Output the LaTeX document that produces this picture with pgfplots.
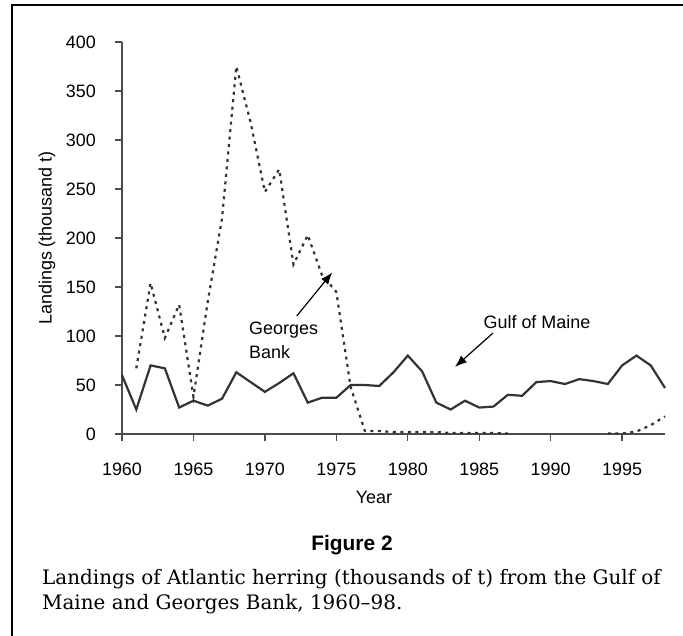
\documentclass[border=0pt]{standalone}
\usepackage{fontspec}
\setmainfont{Liberation Sans}
\newfontfamily\capfont{DejaVu Serif}
\usepackage{pgfplots}
\pgfplotsset{compat=1.18}
\usetikzlibrary{arrows.meta}
\begin{document}
\begin{tikzpicture}
\path[use as bounding box] (0,0) rectangle (683bp,-636bp);
\draw[line width=2bp, black] (12bp,-640bp) -- (12bp,-5bp) -- (690bp,-5bp);
\begin{axis}[
  at={(122bp,-434bp)}, anchor=south west,
  scale only axis, width=543bp, height=392bp,
  xmin=1960, xmax=1998, ymin=0, ymax=400,
  axis lines=left,
  axis line style={-, line width=1.6bp, color=black!70},
  xtick={1960,1965,...,1995}, ytick={0,50,...,400},
  tick align=outside, major tick length=7bp,
  tick style={line width=1.4bp, color=black!70},
  /pgf/number format/1000 sep=,
  /pgf/number format/assume math mode=true,
  ticklabel style={font=\fontsize{18}{21}\selectfont, inner sep=0pt},
  xticklabel style={anchor=center, yshift=-28bp},
  yticklabel style={anchor=east, xshift=-19bp},
  xlabel={Year}, ylabel={Landings (thousand t)},
  label style={font=\fontsize{18}{21}\selectfont},
  xlabel style={at={(axis description cs:0.4641,-0.1607)}, anchor=center},
  ylabel style={at={(axis description cs:-0.1381,0.5)}, anchor=center},
  clip=false,
  unbounded coords=jump,
]
\addplot[line width=2.2bp, color=black!80, line join=miter] coordinates {
(1960,60) (1961,25) (1962,70) (1963,67) (1964,27) (1965,34) (1966,29) (1967,36)
(1968,63) (1969,53) (1970,43) (1971,52) (1972,62) (1973,32) (1974,37) (1975,37)
(1976,50) (1977,50) (1978,49) (1979,63) (1980,80) (1981,64) (1982,32) (1983,25)
(1984,34) (1985,27) (1986,28) (1987,40) (1988,39) (1989,53) (1990,54) (1991,51)
(1992,56) (1993,54) (1994,51) (1995,70) (1996,80) (1997,70) (1998,47)
};
\addplot[line width=2.2bp, color=black!80, dash pattern=on 3bp off 4.5bp] coordinates {
(1961,67) (1962,154) (1963,98) (1964,132) (1965,38) (1966,135) (1967,220)
(1968,375) (1969,318) (1970,247) (1971,270) (1972,173) (1973,203) (1974,162)
(1975,145) (1976,48) (1977,3) (1978,3) (1979,2) (1980,2) (1981,2) (1982,2)
(1983,1) (1984,1) (1985,1) (1986,1) (1987,0.5) (1988,nan) (1993,nan)
(1994,0.5) (1995,0.5) (1996,2.5) (1997,9) (1998,18)
};
\node[font=\fontsize{18}{24}\selectfont, align=left, anchor=west, inner sep=0pt]
  at (axis cs:1968.89,95.9) {Georges\\Bank};
\node[font=\fontsize{18}{21}\selectfont, inner sep=0pt] at (axis cs:1989.04,114.3) {Gulf of Maine};
\draw[line width=1.2bp, -{Latex[length=12bp,width=9bp]}] (axis cs:1972.23,120.4) -- (axis cs:1974.72,165);
\draw[line width=1.2bp, -{Latex[length=12bp,width=9bp]}] (axis cs:1985.96,103) -- (axis cs:1983.30,68.4);
\end{axis}
\node[font=\bfseries\fontsize{21}{24}\selectfont] at (352bp,-545bp) {Figure 2};
\node[anchor=base west, inner sep=0pt, font=\capfont\fontsize{20}{25}\selectfont] at (42bp,-584bp)
  {Landings of Atlantic herring (thousands of t) from the Gulf of};
\node[anchor=base west, inner sep=0pt, font=\capfont\fontsize{20}{25}\selectfont] at (42bp,-609bp)
  {Maine and Georges Bank, 1960–98.};
\end{tikzpicture}
\end{document}
